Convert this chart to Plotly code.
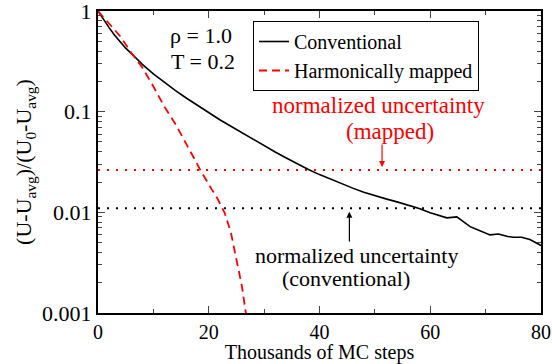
import plotly.graph_objects as go

# Conventional MC decay (thousands of steps vs normalized deviation)
conv_x = [0, 1, 2, 3, 4, 5, 6, 7, 8, 10, 12, 14, 16, 18, 20, 22, 24, 26, 28, 30, 32, 34, 36, 38,
          40, 42, 44, 46, 48, 50, 52, 54, 56, 58, 60, 61.8, 63, 64.8, 66, 67.2, 68, 70, 70.8,
          72.3, 74, 75, 76.5, 78, 80]
conv_y = [1.0, 0.822, 0.684, 0.575, 0.490, 0.427, 0.380, 0.331, 0.295, 0.237, 0.195, 0.162,
          0.136, 0.115, 0.0977, 0.0832, 0.0716, 0.0617, 0.0531, 0.0457, 0.0398, 0.0347,
          0.0302, 0.0266, 0.0237, 0.0213, 0.0191, 0.0174, 0.0158, 0.0146, 0.0136, 0.0127,
          0.0118, 0.0109, 0.00989, 0.00920, 0.00881, 0.00902, 0.00813, 0.00721, 0.00692,
          0.00624, 0.00597, 0.00610, 0.00575, 0.00566, 0.00566, 0.00537, 0.00468]

# Harmonically mapped decay
map_x = [0, 2, 4, 6, 8, 10, 12, 14, 16, 17.2, 18.4, 19.5, 20.5, 21.4, 22.2, 22.9, 24, 24.75,
         25.5, 26, 26.7, 26.9]
map_y = [1.0, 0.759, 0.562, 0.385, 0.275, 0.178, 0.112, 0.075, 0.0479, 0.0357, 0.0268, 0.0209,
         0.0170, 0.0143, 0.0117, 0.0098, 0.0063, 0.0039, 0.0025, 0.00183, 0.00100, 0.00085]

# Normalized uncertainty levels
unc_mapped = 0.0264
unc_conv = 0.0110
x_span = [0, 80]

y_tickvals = [1, 0.1, 0.01, 0.001]
y_ticktext = ["1", "0.1", "0.01", "0.001"]
x_tickvals = [0, 20, 40, 60, 80]

FONT = "'Liberation Serif', 'Times New Roman', serif"

fig = go.Figure()
fig.add_trace(go.Scatter(x=x_span, y=[unc_mapped, unc_mapped], mode="lines",
                         line=dict(color="#ff0000", width=2, dash="2px,7px"), showlegend=False))
fig.add_trace(go.Scatter(x=x_span, y=[unc_conv, unc_conv], mode="lines",
                         line=dict(color="black", width=2, dash="2px,7px"), showlegend=False))
fig.add_trace(go.Scatter(x=conv_x, y=conv_y, mode="lines", name="Conventional",
                         line=dict(color="black", width=1.6)))
fig.add_trace(go.Scatter(x=map_x, y=map_y, mode="lines", name="Harmonically mapped",
                         line=dict(color="#ff0000", width=1.8, dash="8px,5px")))

W, H = 552, 364
L, R, T, B = 98, 11, 11, 51
pw, ph = W - L - R, H - T - B


def px(x):
    return (x - L) / pw


def py(y):
    return 1 - (y - T) / ph


def label(xp, yp, text, size, color):
    return dict(x=px(xp), y=py(yp), xref="paper", yref="paper", text=text,
                xanchor="center", yanchor="middle", showarrow=False,
                font=dict(size=size, color=color, family=FONT))


ann = [
    label(201, 36, "ρ = 1.0", 22, "black"),
    label(203, 62, "T = 0.2", 22, "black"),
    label(378, 105, "normalized uncertainty", 23, "#ff0000"),
    label(390, 131, "(mapped)", 23, "#ff0000"),
    label(356, 255, "normalized uncertainty", 22, "black"),
    label(346, 278, "(conventional)", 22, "black"),
]
# arrows
ann.append(dict(x=51.3, y=-1.55, ax=51.3, ay=-1.311, xref="x", yref="y", axref="x", ayref="y",
                text="", showarrow=True, arrowhead=2, arrowsize=1, arrowwidth=1.2,
                arrowcolor="#ff0000"))
ann.append(dict(x=45.4, y=-1.993, ax=45.4, ay=-2.304, xref="x", yref="y", axref="x", ayref="y",
                text="", showarrow=True, arrowhead=2, arrowsize=1, arrowwidth=1.2,
                arrowcolor="black"))

fig.update_layout(
    width=W, height=H,
    margin=dict(l=L, r=R, t=T, b=B, autoexpand=False),
    paper_bgcolor="white", plot_bgcolor="white",
    font=dict(family=FONT, size=22, color="black"),
    legend=dict(x=px(253), y=py(21), xanchor="left", yanchor="top",
                bordercolor="black", borderwidth=1, bgcolor="white",
                font=dict(size=20, family=FONT), tracegroupgap=0,
                itemwidth=30),
    annotations=ann,
)
fig.update_xaxes(range=[0, 80], tickvals=x_tickvals, ticks="inside", ticklen=7, tickwidth=1,
                 showline=True, linecolor="black", linewidth=2, mirror="ticks",
                 showgrid=False, zeroline=False, automargin=False, ticklabeloverflow="allow",
                 minor=dict(ticks="inside", ticklen=4, tickvals=[10, 30, 50, 70], showgrid=False),
                 title=dict(text="Thousands of MC steps", standoff=3,
                            font=dict(size=20, family=FONT)),
                 tickfont=dict(size=20, family=FONT))
fig.update_yaxes(type="log", range=[-3, 0], tickvals=y_tickvals, ticktext=y_ticktext,
                 ticks="inside", ticklen=7, tickwidth=1,
                 showline=True, linecolor="black", linewidth=2, mirror="ticks",
                 showgrid=False, zeroline=False, automargin=False, ticklabeloverflow="allow",
                 minor=dict(ticks="inside", ticklen=4, dtick="D1", showgrid=False),
                 title=dict(text="(U-U<sub>avg</sub>)/(U<sub>0</sub>-U<sub>avg</sub>)",
                            standoff=4, font=dict(size=22, family=FONT)),
                 tickfont=dict(size=22, family=FONT))

fig.write_html("out.html")
